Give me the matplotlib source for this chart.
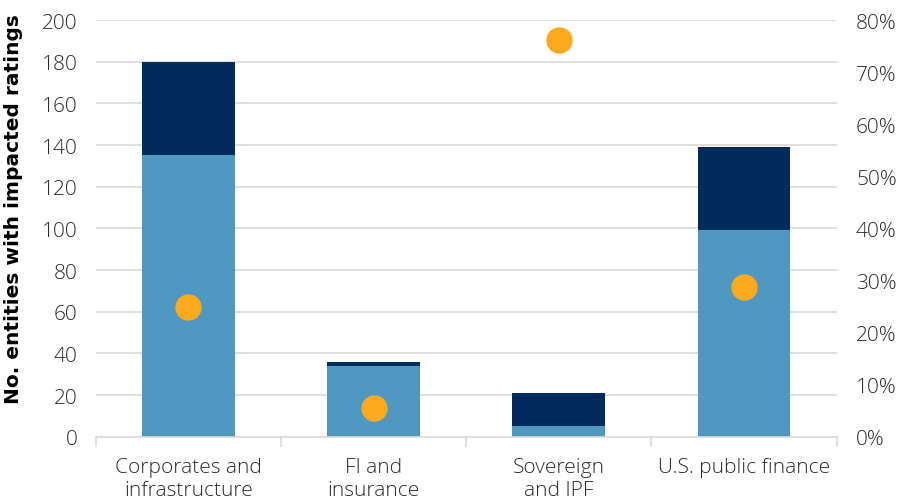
import numpy as np
import matplotlib.pyplot as plt
from matplotlib.ticker import FixedLocator, PercentFormatter

categories = ["Corporates and\ninfrastructure", "FI and\ninsurance", "Sovereign\nand IPF", "U.S. public finance"]
lower = [135, 34, 5, 99]
upper = [45, 2, 16, 40]
share_pct = [25.0, 5.6, 76.2, 28.8]

light_blue = "#4F98C2"
navy = "#002B5C"
amber = "#FCAA1B"
text_col = "#2B2B2B"
grid_col = "#D9D9D9"

plt.rcParams['font.family'] = ['Open Sans', 'DejaVu Sans']

fig = plt.figure(figsize=(8.98, 5.02), dpi=100)
ax = fig.add_axes([0.1066, 0.128, 0.825, 0.83])
ax2 = ax.twinx()

x = np.arange(len(categories))
ax.bar(x, lower, width=0.5, color=light_blue, zorder=2)
ax.bar(x, upper, width=0.5, bottom=lower, color=navy, zorder=2)

# share of entities on the right-hand axis
ax2.scatter(x, share_pct, s=360, color=amber, zorder=3, linewidths=0)

ax.set_xlim(-0.5, 3.5)
ax.set_ylim(0, 200)
ax.set_yticks(np.arange(0, 201, 20))
ax2.set_ylim(0, 80)
ax2.set_yticks(np.arange(0, 81, 10))
ax2.yaxis.set_major_formatter(PercentFormatter(decimals=0))

ax.yaxis.grid(True, color=grid_col, linewidth=1.2, zorder=0)
ax.set_axisbelow(True)

for a in (ax, ax2):
    for side in ("top", "left", "right", "bottom"):
        a.spines[side].set_visible(False)
ax.spines["bottom"].set_visible(True)
ax.spines["bottom"].set_color(grid_col)
ax.spines["bottom"].set_linewidth(1.2)

ax.set_xticks(x)
ax.set_xticklabels(categories, fontsize=15, color=text_col, fontweight="light", linespacing=1.2)
# small separators between categories
ax.xaxis.set_minor_locator(FixedLocator([-0.5, 0.5, 1.5, 2.5, 3.5]))
ax.tick_params(axis="x", which="major", length=0, pad=14.5)
ax.tick_params(axis="x", which="minor", length=7, color=grid_col, width=1.2)

ax.tick_params(axis="y", length=0, pad=13, labelsize=15, labelcolor=text_col)
ax2.tick_params(axis="y", length=0, pad=14, labelsize=15, labelcolor=text_col)
for lab in ax.get_yticklabels() + ax2.get_yticklabels():
    lab.set_fontweight("light")

ax.set_ylabel("No. entities with impacted ratings", fontsize=14.5, fontweight="bold",
              family=["DejaVu Sans"], color="black")
ax.yaxis.set_label_coords(-0.098, 0.55)

fig.savefig("out.png", dpi=100)
